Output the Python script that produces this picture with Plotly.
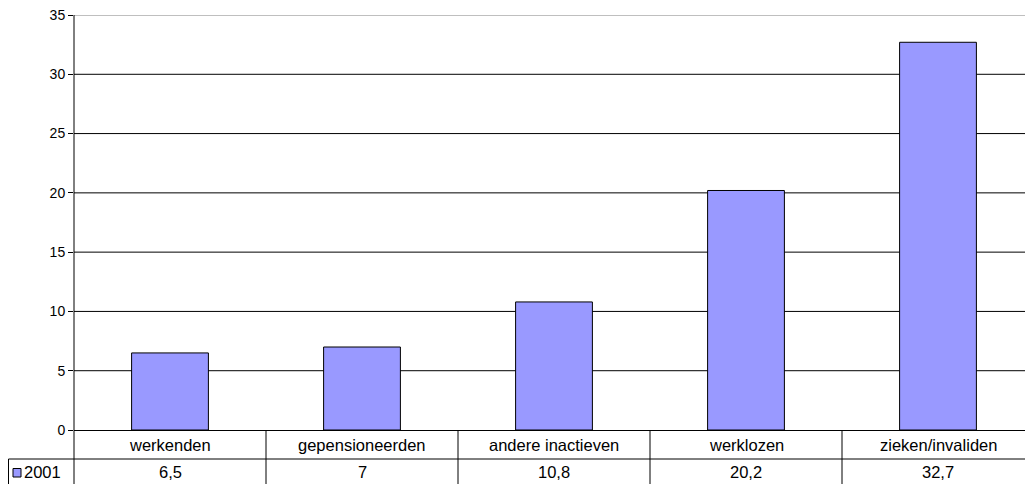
import plotly.graph_objects as go

categories = ["werkenden", "gepensioneerden", "andere inactieven", "werklozen", "zieken/invaliden"]
values_2001 = [6.5, 7, 10.8, 20.2, 32.7]
value_labels = ["6,5", "7", "10,8", "20,2", "32,7"]
series_name = "2001"
y_ticks = [0, 5, 10, 15, 20, 25, 30, 35]

W, H = 1025, 484
L, R, T, B = 74, 0, 15, 54
plot_h = H - T - B
plot_w = W - L - R
CAT_W = 192.0  # pixel width of one category in the reference (plot area runs past the right edge)
x_max = -0.5 + plot_w / CAT_W

def py(pix):
    # convert pixel y (from top) to paper coordinate
    return (H - B - pix) / plot_h

def px(pix):
    return (pix - L) / plot_w

FONT = "Liberation Sans, Arial, sans-serif"
TABLE_FONT = dict(family=FONT, size=16.5, color="#000000")

fig = go.Figure()
fig.add_trace(go.Bar(
    x=list(range(len(categories))), y=values_2001, name=series_name,
    marker=dict(color="#9999FF", line=dict(color="#000000", width=1)),
    showlegend=False, hoverinfo="skip",
))

shapes = []
# gridlines
for v in y_ticks[1:-1]:
    shapes.append(dict(type="line", xref="paper", yref="y", x0=0, x1=1, y0=v, y1=v,
                       line=dict(color="#000000", width=1), layer="below"))
shapes.append(dict(type="line", xref="paper", yref="y", x0=0, x1=1, y0=35, y1=35,
                   line=dict(color="#808080", width=1), layer="below"))
# table horizontal lines
row1_bottom = py(459)
table_bottom = py(484)
shapes.append(dict(type="line", xref="paper", yref="paper", x0=px(8.5), x1=1,
                   y0=row1_bottom, y1=row1_bottom, line=dict(color="#000000", width=1)))
# legend cell left border
shapes.append(dict(type="line", xref="paper", yref="paper", x0=px(8.5), x1=px(8.5),
                   y0=row1_bottom, y1=table_bottom, line=dict(color="#000000", width=1)))
# vertical separators at category boundaries
for i in range(len(categories) - 1):
    shapes.append(dict(type="line", xref="x", yref="paper", x0=i + 0.5, x1=i + 0.5,
                       y0=0, y1=table_bottom, line=dict(color="#000000", width=1)))
# y axis line extended through table
shapes.append(dict(type="line", xref="paper", yref="paper", x0=0, x1=0,
                   y0=1, y1=table_bottom, line=dict(color="#000000", width=1)))
# legend key square
shapes.append(dict(type="rect", xref="paper", yref="paper",
                   x0=px(13), x1=px(21), y0=py(477), y1=py(468.5),
                   fillcolor="#9999FF", line=dict(color="#000000", width=1)))

annotations = []
for i, (c, vl) in enumerate(zip(categories, value_labels)):
    annotations.append(dict(x=i, y=py(444.5), xref="x", yref="paper", text=c, showarrow=False,
                            font=TABLE_FONT, xanchor="center", yanchor="middle"))
    annotations.append(dict(x=i, y=py(472), xref="x", yref="paper", text=vl, showarrow=False,
                            font=TABLE_FONT, xanchor="center", yanchor="middle"))
annotations.append(dict(x=px(22), y=py(472), xref="paper", yref="paper", text=series_name,
                        showarrow=False, font=TABLE_FONT, xanchor="left", yanchor="middle"))

fig.update_layout(
    width=W, height=H,
    margin=dict(l=L, r=R, t=T, b=B),
    paper_bgcolor="#FFFFFF", plot_bgcolor="#FFFFFF",
    bargap=0.6,
    xaxis=dict(range=[-0.5, x_max], showticklabels=False, showgrid=False,
               zeroline=False, showline=True, linecolor="#000000", linewidth=1, ticks=""),
    yaxis=dict(range=[0, 35], tickvals=y_ticks, showgrid=False, zeroline=False,
               showline=False, ticks="outside", ticklen=5, tickcolor="#000000",
               tickfont=dict(family=FONT, size=14, color="#000000")),
    shapes=shapes, annotations=annotations,
)

fig.write_html("out.html", config={"displayModeBar": False},
               post_script="document.body.style.margin='0';document.body.style.overflow='hidden';")
